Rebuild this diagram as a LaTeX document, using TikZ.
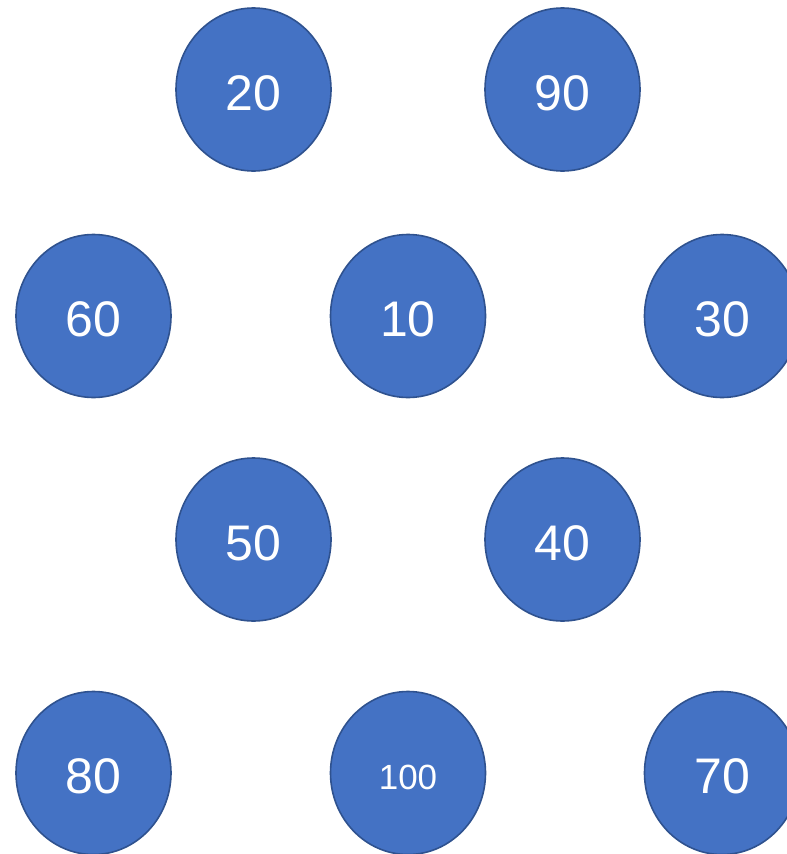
\documentclass[tikz,border=0pt]{standalone}
\usepackage{fontspec}
\setmainfont{Liberation Sans}
\usetikzlibrary{shapes.geometric}
\definecolor{fillblue}{HTML}{4472C4}
\definecolor{edgeblue}{HTML}{2F528F}
\begin{document}
\begin{tikzpicture}[x=1pt,y=-1pt,
  bubble/.style={ellipse,minimum width=155pt,minimum height=163pt,inner sep=0pt,
    fill=fillblue,draw=edgeblue,line width=1.6pt,text=white,
    text height=41pt,text depth=0pt,font=\fontsize{50}{50}\selectfont},
  smallbubble/.style={bubble,text height=32pt,font=\fontsize{35}{35}\selectfont}]
\useasboundingbox (0,0) rectangle (787,854);
\begin{scope}
\clip (0,0) rectangle (787,854);
\node[bubble] (n20) at (253.5,89.5) {20};
\node[bubble] (n90) at (562.5,89.5) {90};
\node[bubble] (n60) at (93.5,316) {60};
\node[bubble] (n10) at (408,316) {10};
\node[bubble] (n30) at (722,316) {30};
\node[bubble] (n50) at (253.5,539.5) {50};
\node[bubble] (n40) at (562.5,539.5) {40};
\node[bubble] (n80) at (93.5,773) {80};
\node[smallbubble] (n100) at (408,773) {100};
\node[bubble] (n70) at (722,773) {70};
\end{scope}
\end{tikzpicture}
\end{document}
